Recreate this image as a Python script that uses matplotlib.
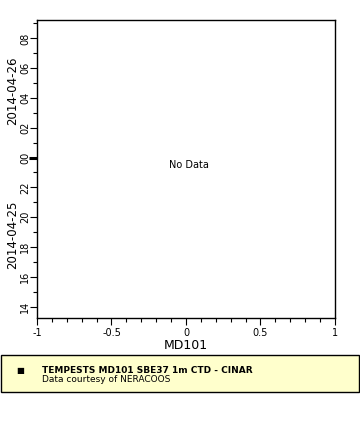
import matplotlib
matplotlib.use('Agg')
import matplotlib.pyplot as plt
import matplotlib.dates as mdates
from matplotlib.ticker import MultipleLocator
import datetime

# chart data
t_start = datetime.datetime(2014, 4, 25, 13, 14)
t_end = datetime.datetime(2014, 4, 26, 9, 14)
x_range = [-1, 1]
x_ticks = [-1, -0.5, 0, 0.5, 1]
x_tick_labels = ['-1', '-0.5', '0', '0.5', '1']
day_labels = ['2014-04-25', '2014-04-26']
day_label_times = [datetime.datetime(2014, 4, 25, 18, 50), datetime.datetime(2014, 4, 26, 4, 30)]
station = 'MD101'
legend_title = 'TEMPESTS MD101 SBE37 1m CTD - CINAR'
legend_sub = 'Data courtesy of NERACOOS'

fig = plt.figure(figsize=(3.6, 4.4), dpi=100)
ax = fig.add_axes([37/360, 1 - 318/440, 298/360, 298/440])

ax.set_xlim(*x_range)
ax.set_ylim(t_start, t_end)
ax.set_xticks(x_ticks)
ax.set_xticklabels(x_tick_labels)
ax.xaxis.set_minor_locator(MultipleLocator(0.1))

ax.yaxis.set_major_locator(mdates.HourLocator(byhour=range(0, 24, 2)))
ax.yaxis.set_major_formatter(mdates.DateFormatter('%H'))
ax.yaxis.set_minor_locator(mdates.HourLocator())
for lab in ax.get_yticklabels():
    lab.set_rotation(90)
    lab.set_va('center')

ax.tick_params(axis='both', which='major', direction='out', length=5, width=0.8,
               labelsize=7, pad=2, top=False, right=False)
ax.tick_params(axis='y', which='major', pad=0)
ax.tick_params(axis='both', which='minor', direction='out', length=3, width=0.8,
               top=False, right=False)
for s in ax.spines.values():
    s.set_linewidth(1.0)

# thicker tick at midnight
fig.canvas.draw()
midnight = mdates.date2num(datetime.datetime(2014, 4, 26, 0, 0))
for tick in ax.yaxis.get_major_ticks():
    if abs(tick.get_loc() - midnight) < 1e-6:
        tick.tick1line.set_markeredgewidth(2.2)
        tick.tick1line.set_markersize(6)

for lab, t in zip(day_labels, day_label_times):
    ax.text(-0.082, mdates.date2num(t), lab, rotation=90, va='center', ha='center',
            fontsize=8.5, transform=ax.get_yaxis_transform(), clip_on=False)

ax.set_xlabel(station, fontsize=9, labelpad=1)
ax.text(0.51, 0.515, 'No Data', transform=ax.transAxes, ha='center', va='center', fontsize=7)

# legend box
fig.patches.append(plt.Rectangle((0.5/360, 1 - 392/440), 358.5/360, 37/440,
                                 transform=fig.transFigure, facecolor='#ffffcc',
                                 edgecolor='black', linewidth=1))
fig.text(20/360, 1 - 370.5/440, '\u25a0', fontsize=6, ha='center', va='center')
fig.text(42/360, 1 - 370.5/440, legend_title, fontsize=6.5, fontweight='bold', va='center')
fig.text(42/360, 1 - 379.5/440, legend_sub, fontsize=6.5, va='center')

fig.savefig('out.png', dpi=100)
